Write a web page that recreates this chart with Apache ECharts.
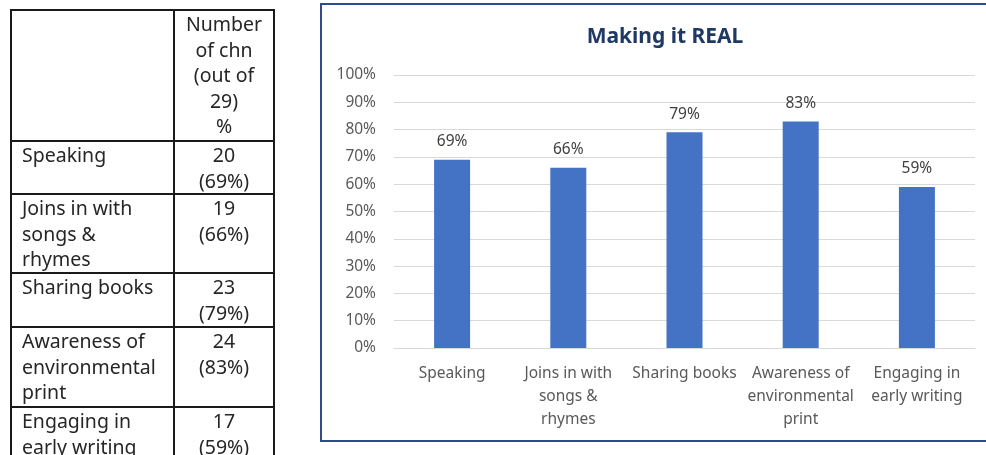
<!DOCTYPE html>
<html>
<head>
<meta charset="utf-8">
<script src="https://cdn.jsdelivr.net/npm/echarts@6/dist/echarts.min.js"></script>
<style>
  html, body { margin: 0; padding: 0; background: #fff; }
  #chart { position: absolute; left: 0; top: 0; width: 986px; height: 455px; }
  #tbl {
    position: absolute; left: 10px; top: 9px; z-index: 2;
    border-collapse: collapse; font-family: "Noto Sans", sans-serif;
    font-size: 19.5px; line-height: 25.5px; color: #262626;
  }
  #tbl td { border: 2px solid #1a1a1a; vertical-align: top; padding: 0; box-sizing: border-box; }
  #tbl td.lab { width: 163px; padding-left: 10px; }
  #tbl td.num { width: 100px; text-align: center; }
</style>
</head>
<body>
<div id="chart"></div>
<table id="tbl"></table>
<script>
// Skills observed, with the line breaks used in the table and on the axis
const categoryLines = [
  ["Speaking"],
  ["Joins in with", "songs &", "rhymes"],
  ["Sharing books"],
  ["Awareness of", "environmental", "print"],
  ["Engaging in", "early writing"]
];
const childCounts = [20, 19, 23, 24, 17];
const percentValues = [69, 66, 79, 83, 59];
const headerLines = ["Number", "of chn", "(out of", "29)", "%"];
const yTicks = [0, 10, 20, 30, 40, 50, 60, 70, 80, 90, 100];
const rowHeights = [131, 53, 79, 54, 80, 60];

// Summary table
const tbl = document.getElementById("tbl");
function addRow(h, left, right) {
  const r = tbl.insertRow();
  const a = r.insertCell(); a.className = "lab"; a.innerHTML = left;
  const b = r.insertCell(); b.className = "num"; b.innerHTML = right;
  a.style.height = h + "px"; b.style.height = h + "px";
}
addRow(rowHeights[0], "", headerLines.join("<br>"));
categoryLines.forEach((lines, i) => {
  addRow(rowHeights[i + 1], lines.join("<br>"), childCounts[i] + "<br>(" + percentValues[i] + "%)");
});

// Bar chart
const chart = echarts.init(document.getElementById("chart"));
const labelFont = "'Noto Sans', sans-serif";
chart.setOption({
  animation: false,
  title: {
    text: "Making it REAL",
    left: 660, top: 22, textAlign: "center",
    textStyle: { fontFamily: "'Noto Sans', sans-serif", fontWeight: "bold", fontSize: 21, color: "#1f3864" }
  },
  graphic: [{
    type: "rect", shape: { x: 321, y: 4, width: 700, height: 437 },
    style: { fill: "none", stroke: "#2f4b8c", lineWidth: 2 }, silent: true
  }],
  grid: { left: 394, right: 11, top: 75, bottom: 107 },
  xAxis: {
    type: "category",
    data: categoryLines.map(l => l.join("\n")),
    axisLine: { show: true, lineStyle: { color: "#d9d9d9", width: 1 } },
    axisTick: { show: false },
    axisLabel: { color: "#595959", fontFamily: labelFont, fontSize: 15.5, lineHeight: 23, margin: 14, interval: 0 }
  },
  yAxis: {
    type: "value", min: 0, max: 100, interval: 10,
    axisLabel: { formatter: v => yTicks.includes(v) ? v + "%" : "", color: "#595959", fontFamily: labelFont, fontSize: 15.5, margin: 18 },
    splitLine: { lineStyle: { color: "#d9d9d9", width: 1 } },
    axisLine: { show: false }, axisTick: { show: false }
  },
  series: [{
    type: "bar",
    data: percentValues,
    barWidth: 36,
    itemStyle: { color: "#4472c4" },
    label: {
      show: true, position: "top", distance: 10,
      formatter: p => p.value + "%",
      color: "#404040", fontFamily: labelFont, fontSize: 15.5
    }
  }]
});
</script>
</body>
</html>
